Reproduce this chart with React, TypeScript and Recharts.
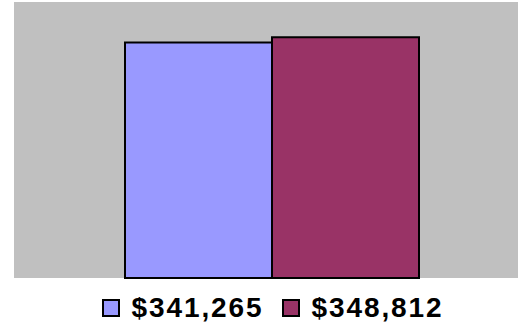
import { BarChart, Bar, XAxis, YAxis, CartesianGrid, Legend } from 'recharts';

const categories = [''];
const seriesNames = ['$341,265', '$348,812'];
const seriesValues = [341265, 348812];
const seriesColors = ['#9999FF', '#993366'];

const data = categories.map((c) => {
  const row: Record<string, string | number> = { name: c };
  seriesNames.forEach((n, i) => {
    row['s' + i] = seriesValues[i];
  });
  return row;
});

function LegendContent() {
  return (
    <div
      style={{
        height: 54,
        display: 'flex',
        alignItems: 'center',
        justifyContent: 'center',
        paddingLeft: 13,
        paddingTop: 6,
        boxSizing: 'border-box',
        fontFamily: "Arial, 'Liberation Sans', sans-serif",
        fontWeight: 'bold',
        fontSize: 28,
        letterSpacing: 1.9,
        color: '#000',
      }}
    >
      {seriesNames.map((n, i) => (
        <div key={n} style={{ display: 'flex', alignItems: 'center', marginRight: i === 0 ? 18 : 0 }}>
          <span
            style={{
              display: 'inline-block',
              width: 14,
              height: 14,
              background: seriesColors[i],
              border: '2px solid #000',
              marginRight: 12,
            }}
          />
          <span>{n}</span>
        </div>
      ))}
    </div>
  );
}

export default function App() {
  return (
    <div style={{ position: 'fixed', left: 0, top: 0, width: 518, height: 332, background: '#fff' }}>
      <BarChart
        width={518}
        height={332}
        data={data}
        margin={{ top: 2, right: 0, left: 14, bottom: 0 }}
        barGap={0}
        barSize={147}
      >
        <CartesianGrid fill="#C0C0C0" horizontal={false} vertical={false} />
        <XAxis
          dataKey="name"
          tick={false}
          height={0}
          padding={{ left: 11, right: 0 }}
          axisLine={{ stroke: '#888888', strokeWidth: 2 }}
          tickLine={false}
        />
        <XAxis
          xAxisId="top"
          orientation="top"
          dataKey="name"
          tick={false}
          height={0}
          axisLine={{ stroke: '#A0A0A0', strokeWidth: 2 }}
          tickLine={false}
        />
        <YAxis
          domain={[0, 400000]}
          tick={false}
          width={0}
          axisLine={{ stroke: '#888888', strokeWidth: 2 }}
          tickLine={false}
        />
        <Legend verticalAlign="bottom" content={<LegendContent />} />
        {seriesNames.map((n, i) => (
          <Bar
            key={n}
            dataKey={'s' + i}
            name={n}
            fill={seriesColors[i]}
            stroke="#000"
            strokeWidth={2}
            isAnimationActive={false}
          />
        ))}
      </BarChart>
    </div>
  );
}
